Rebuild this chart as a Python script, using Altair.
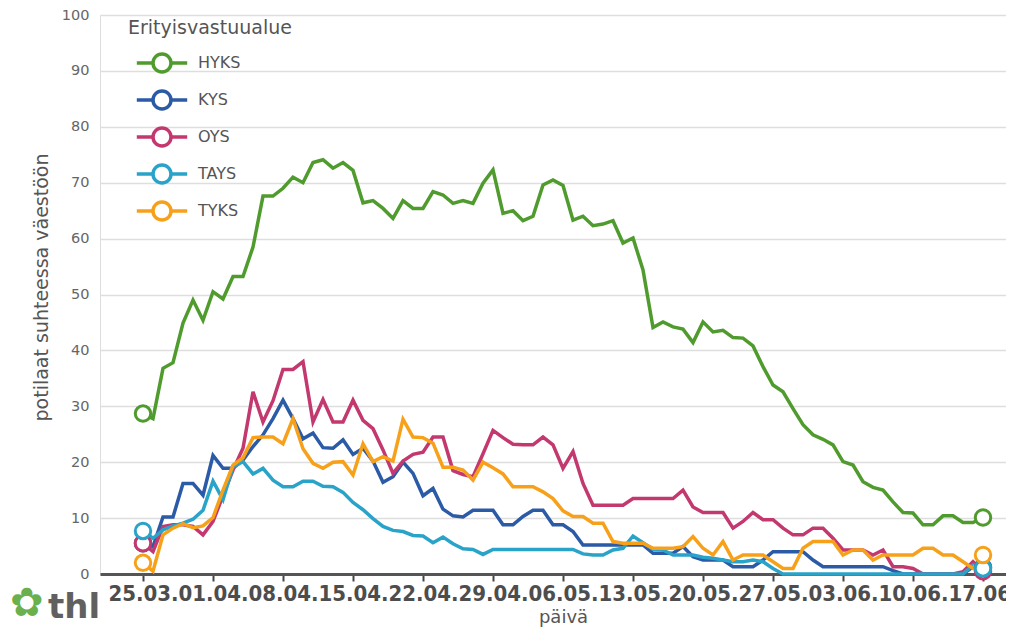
import altair as alt
import pandas as pd

series = ["HYKS", "KYS", "OYS", "TAYS", "TYKS"]
colors = ["#509b2e", "#2b5aa6", "#c2386f", "#2aa3c9", "#f7a11a"]
start_date = "2020-03-25"
n_days = 85
tick_labels_dates = [(2020, 3, 25), (2020, 4, 1), (2020, 4, 8), (2020, 4, 15), (2020, 4, 22),
                     (2020, 4, 29), (2020, 5, 6), (2020, 5, 13), (2020, 5, 20), (2020, 5, 27),
                     (2020, 6, 3), (2020, 6, 10), (2020, 6, 17)]

hyks = [28.7, 27.8, 36.8, 37.8, 44.9, 49.0, 45.4, 50.5, 49.2, 53.2,
        53.2, 58.5, 67.6, 67.6, 69.0, 71.0, 70.0, 73.6, 74.1, 72.6,
        73.6, 72.2, 66.4, 66.8, 65.4, 63.6, 66.8, 65.4, 65.4, 68.4,
        67.8, 66.3, 66.8, 66.3, 69.9, 72.3, 64.5, 65.0, 63.2, 64.0,
        69.6, 70.5, 69.5, 63.3, 64.0, 62.3, 62.6, 63.2, 59.2, 60.1,
        54.4, 44.1, 45.1, 44.2, 43.8, 41.4, 45.1, 43.3, 43.6, 42.3,
        42.2, 40.8, 37.1, 33.8, 32.6, 29.6, 26.7, 24.9, 24.1, 23.1,
        20.1, 19.5, 16.5, 15.5, 15.0, 12.9, 11.0, 10.9, 8.8, 8.8,
        10.4, 10.4, 9.2, 9.2, 10.1]
kys = [5.5, 4.9, 10.2, 10.2, 16.2, 16.2, 14.1, 21.2, 18.9, 18.9,
       20.4, 22.8, 24.9, 27.8, 31.1, 27.8, 24.2, 25.2, 22.6, 22.5,
       24.0, 21.4, 22.5, 20.2, 16.4, 17.4, 20.0, 18.0, 14.0, 15.3,
       11.6, 10.4, 10.2, 11.4, 11.4, 11.4, 8.8, 8.8, 10.3, 11.4,
       11.4, 8.8, 8.8, 7.6, 5.2, 5.2, 5.2, 5.2, 5.2, 5.2,
       5.2, 3.7, 3.7, 3.7, 4.9, 3.1, 2.5, 2.5, 2.5, 1.3,
       1.3, 1.3, 2.5, 4.0, 4.0, 4.0, 4.0, 2.5, 1.3, 1.3,
       1.3, 1.3, 1.3, 1.3, 1.3, 0.6, 0.0, 0.0, 0.0, 0.0,
       0.0, 0.0, 0.0, 1.3, 1.2]
oys = [5.5, 4.0, 8.5, 8.8, 8.8, 8.5, 7.0, 9.4, 14.0, 18.6,
       22.5, 32.6, 27.2, 31.0, 36.6, 36.6, 38.0, 27.2, 31.2, 27.2,
       27.2, 31.1, 27.5, 26.0, 22.2, 18.0, 20.2, 21.4, 21.8, 24.5,
       24.5, 18.5, 17.8, 17.4, 21.5, 25.7, 24.4, 23.2, 23.1, 23.1,
       24.5, 23.1, 18.9, 21.9, 16.2, 12.3, 12.3, 12.3, 12.3, 13.5,
       13.5, 13.5, 13.5, 13.5, 15.0, 12.0, 11.0, 11.0, 11.0, 8.2,
       9.4, 11.0, 9.7, 9.7, 8.2, 7.0, 7.0, 8.2, 8.2, 6.4,
       4.3, 4.3, 4.3, 3.4, 4.3, 1.3, 1.3, 1.0, 0.0, 0.0,
       0.0, 0.0, 0.4, 2.2, 0.5]
tays = [7.7, 6.4, 7.9, 8.6, 9.1, 9.8, 11.4, 16.6, 13.3, 19.2,
        20.1, 17.9, 18.9, 16.8, 15.6, 15.6, 16.6, 16.6, 15.7, 15.6,
        14.6, 12.8, 11.5, 9.9, 8.5, 7.8, 7.6, 6.9, 6.8, 5.6,
        6.6, 5.4, 4.5, 4.4, 3.5, 4.4, 4.4, 4.4, 4.4, 4.4,
        4.4, 4.4, 4.4, 4.4, 3.6, 3.4, 3.4, 4.3, 4.6, 6.8,
        5.6, 4.4, 4.3, 3.4, 3.4, 3.4, 3.0, 2.8, 2.5, 2.2,
        2.2, 2.5, 2.2, 1.0, 0.0, 0.0, 0.0, 0.0, 0.0, 0.0,
        0.0, 0.0, 0.0, 0.0, 0.0, 0.0, 0.0, 0.0, 0.0, 0.0,
        0.0, 0.0, 0.0, 1.6, 1.0]
tyks = [2.0, 0.5, 7.0, 8.2, 9.0, 8.3, 8.6, 10.1, 15.0, 19.5,
        20.8, 24.4, 24.5, 24.5, 23.3, 27.8, 22.4, 19.8, 18.9, 20.0,
        20.1, 17.7, 23.3, 20.1, 21.0, 20.2, 27.7, 24.5, 24.4, 23.4,
        19.1, 19.1, 18.6, 16.8, 20.0, 19.0, 17.9, 15.6, 15.6, 15.6,
        14.7, 13.5, 11.3, 10.3, 10.3, 9.1, 9.1, 5.8, 5.5, 5.5,
        5.5, 4.6, 4.6, 4.6, 4.9, 6.7, 4.6, 3.4, 5.8, 2.5,
        3.4, 3.4, 3.4, 2.2, 1.0, 1.0, 4.6, 5.8, 5.8, 5.8,
        3.4, 4.3, 4.3, 2.5, 3.4, 3.4, 3.4, 3.4, 4.6, 4.6,
        3.4, 3.4, 2.2, 1.0, 3.4]

values = {"HYKS": hyks, "KYS": kys, "OYS": oys, "TAYS": tays, "TYKS": tyks}
dates = pd.date_range(start_date, periods=n_days, freq="D").strftime("%Y/%m/%d")

rows = []
for s in series:
    for d, v in zip(dates, values[s]):
        rows.append({"alue": s, "paiva": d, "arvo": v})
df = pd.DataFrame(rows)
ends = pd.concat([df[df["alue"] == s].iloc[[0, -1]] for s in series])

FONT = "DejaVu Sans"
symbol_path = "M-2.8,0L-1,0M1,0L2.8,0M-1,0A1,1,0,1,1,1,0A1,1,0,1,1,-1,0Z"

x_enc = alt.X(
    "paiva:T",
    scale=alt.Scale(domain=[alt.DateTime(year=2020, month=3, date=20, hours=16, minutes=48),
                            alt.DateTime(year=2020, month=6, date=19, hours=7, minutes=12)]),
    axis=alt.Axis(
        values=[alt.DateTime(year=y, month=m, date=d) for (y, m, d) in tick_labels_dates],
        format="%d.%m.", labelFont="DejaVu Sans Condensed", labelFontWeight="bold",
        labelFontSize=22, labelColor="#4d4d4d", labelOverlap=False, labelFlush=False,
        labelPadding=2, tickSize=7, tickWidth=2, tickColor="#444444",
        domainColor="#555555", domainWidth=3, grid=False,
        title="päivä", titleFont=FONT, titleFontSize=18, titleFontWeight="normal",
        titleColor="#555555", titlePadding=4, titleX=463,
    ),
)
y_enc = alt.Y(
    "arvo:Q",
    scale=alt.Scale(domain=[0, 100]),
    axis=alt.Axis(
        values=list(range(0, 101, 10)), labelFont=FONT, labelFontSize=14.5,
        labelColor="#666666", ticks=False, domain=False, labelPadding=11,
        gridColor="#dedede", gridWidth=1.5,
        title="potilaat suhteessa väestöön", titleFont=FONT, titleFontSize=19,
        titleFontWeight="normal", titleColor="#555555", titlePadding=10, titleY=272,
    ),
)

legend = alt.Legend(
    title="Erityisvastuualue", orient="none", legendX=28, legendY=4,
    titleFont=FONT, titleFontSize=19, titleFontWeight="normal", titleColor="#555555",
    titlePadding=14, labelFont=FONT, labelFontSize=16, labelColor="#555555",
    symbolType=symbol_path, symbolSize=324, symbolStrokeWidth=3.5,
    symbolFillColor="white", symbolOffset=23, labelOffset=25, rowPadding=5,
)

lines = alt.Chart(df).mark_line(strokeWidth=3.5).encode(
    x=x_enc, y=y_enc,
    color=alt.Color("alue:N", scale=alt.Scale(domain=series, range=colors), legend=legend),
)
points = alt.Chart(ends).mark_point(filled=True, fill="white", size=240, strokeWidth=3, opacity=1).encode(
    x="paiva:T", y="arvo:Q",
    stroke=alt.Stroke("alue:N", scale=alt.Scale(domain=series, range=colors), legend=None),
)

logo_df = pd.DataFrame({"t": ["thl"]})
flower = alt.Chart(logo_df).mark_text(text="✿", fontSize=40, color="#6ab04c", align="center",
                                      baseline="middle").encode(x=alt.value(-73), y=alt.value(589))
thl = alt.Chart(logo_df).mark_text(font=FONT, fontWeight="bold", fontSize=34, color="#606060",
                                   align="left", baseline="alphabetic").encode(
    x=alt.value(-52), y=alt.value(603), text="t:N")

chart = alt.layer(lines, points, flower, thl).properties(
    width=906, height=559,
    padding={"left": 92, "top": 7, "right": 0, "bottom": 53},
    autosize=alt.AutoSizeParams(type="none"),
).configure_view(stroke=None).configure(background="white")

chart.save("out.html", embed_options={"renderer": "svg", "actions": False})
